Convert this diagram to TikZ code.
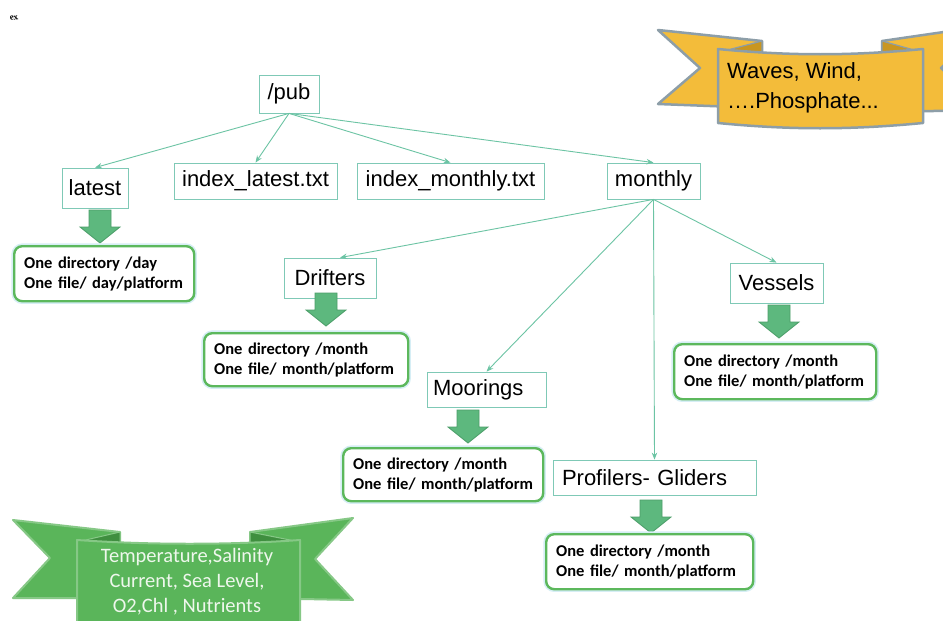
\documentclass[tikz,border=0pt]{standalone}
\usepackage{fontspec}
\setmainfont{Liberation Sans}
\newfontfamily\calibri{Carlito}
\newfontfamily\serifx{Liberation Serif}
\usetikzlibrary{arrows.meta}
\definecolor{linkc}{HTML}{6CC4A4}
\definecolor{boxc}{HTML}{7FC9B6}
\definecolor{arrowfill}{HTML}{5DB87E}
\definecolor{arrowdraw}{HTML}{4C9E69}
\definecolor{resc}{HTML}{5CB85C}
\definecolor{glowc}{HTML}{D6EEF5}
\definecolor{orfill}{HTML}{F3BC3A}
\definecolor{orborder}{HTML}{8D9EA8}
\definecolor{orfold}{HTML}{C99620}
\definecolor{grfill}{HTML}{5AB55A}
\definecolor{grborder}{HTML}{86C886}
\definecolor{grfold}{HTML}{3F8F3F}
\definecolor{grtext}{HTML}{EEF7EC}
\tikzset{
  lbl/.style={draw=boxc, line width=0.8pt, fill=white, inner sep=0pt,
    font=\fontsize{22}{26}\selectfont},
  link/.style={draw=linkc, line width=0.9pt, -{Stealth[length=7pt,width=5.5pt]}},
  res/.style={draw=resc, line width=2.4pt, rounded corners=8pt, fill=white,
    preaction={draw=glowc, line width=5.5pt},
    font=\calibri\bfseries\fontsize{16.5}{20}\selectfont, align=left,
    inner xsep=10pt, inner ysep=0pt, anchor=north west},
  blk/.style={fill=arrowfill, draw=arrowdraw, line width=0.8pt, line join=miter},
  blkarrow/.pic={\draw[blk] (-11,0) -- (11,0) -- (11,17) -- (20,17) -- (0,33) -- (-20,17) -- (-11,17) -- cycle;},
  orrib/.style={fill=orfill, draw=orborder, line width=2.5pt, line join=round},
  orfoldst/.style={fill=orfold, draw=orborder, line width=1.2pt, line join=round},
  grrib/.style={fill=grfill, draw=grborder, line width=2pt, line join=round},
  grfoldst/.style={fill=grfold, draw=grborder, line width=1pt, line join=round}
}
\begin{document}
\begin{tikzpicture}[x=1pt,y=-1pt]
\clip (0,0) rectangle (943,621);
\fill[white] (0,0) rectangle (943,621);

% stray mark
\node[font=\serifx\bfseries\fontsize{9}{9}\selectfont, rotate=12, inner sep=0pt] (ex) at (14,18) {ex};

% orange ribbon
\draw[orrib] (658,30) -- (762,41) -- (762,108) -- (658,104) -- (700,68) -- cycle;
\draw[orrib] (882,41) -- (985,26) -- (941,68) -- (985,110) -- (882,112) -- cycle;
\draw[orfoldst] (720,52) -- (762,41) -- (762,54) -- cycle;
\draw[orfoldst] (882,41) -- (882,54) -- (921,52) -- cycle;
\draw[orrib] (718,49) .. controls (790,56) and (850,56) .. (923,49) -- (923,123)
  .. controls (850,130) and (790,130) .. (718,123) -- cycle;
\node[anchor=west, align=left, inner sep=0pt, font=\fontsize{22}{30}\selectfont] (waves) at (727,88) {Waves, Wind,\\….Phosphate...};

% green ribbon
\draw[grrib] (13,520) -- (120,532) -- (120,598) -- (13,598) -- (50,558) -- cycle;
\draw[grrib] (353,518) -- (250,532) -- (250,598) -- (353,600) -- (315,559) -- cycle;
\draw[grfoldst] (77,542) -- (120,532) -- (120,544) -- cycle;
\draw[grfoldst] (250,532) -- (250,544) -- (300,542) -- cycle;
\draw[grrib] (77,540) .. controls (150,545) and (230,545) .. (300,540) -- (300,640) -- (77,640) -- cycle;
\node[align=center, text=grtext, inner sep=0pt, font=\calibri\fontsize{20.5}{25}\selectfont] (temps) at (187,582) {Temperature,Salinity\\Current, Sea Level,\\O2,Chl , Nutrients};

% label nodes
\node[lbl, minimum width=60pt, minimum height=38pt] (pub) at (289,94) {/pub};
\node[lbl, minimum width=66pt, minimum height=40pt] (latest) at (95,188) {latest};
\node[lbl, minimum width=163pt, minimum height=36pt] (idxl) at (255.5,181) {index\_latest.txt};
\node[lbl, minimum width=187pt, minimum height=36pt] (idxm) at (450.5,181) {index\_monthly.txt};
\node[lbl, minimum width=93pt, minimum height=36pt] (monthly) at (653.5,181) {monthly};
\node[lbl, minimum width=92pt, minimum height=40pt] (drifters) at (330,278) {Drifters};
\node[lbl, minimum width=93pt, minimum height=40pt] (vessels) at (776.5,283) {Vessels};
\node[lbl, minimum height=35pt, text width=107pt, inner xsep=6pt, align=left] (moorings) at (486.5,389.5) {Moorings};
\node[lbl, minimum height=35pt, text width=185pt, inner xsep=9pt, align=left] (profilers) at (654.5,477.5) {Profilers- Gliders};

% connectors
\draw[link] (pub.south) -- (latest.north);
\draw[link] (pub.south) -- (idxl.north);
\draw[link] (pub.south) -- (idxm.north);
\draw[link] (pub.south) -- (monthly.north);
\draw[link] (monthly.south) -- ([xshift=10pt]drifters.north);
\draw[link] (monthly.south) -- (vessels.north);
\draw[link] (monthly.south) -- (moorings.north);
\draw[link] (monthly.south) -- (profilers.north);

% block arrows
\pic at (100,210) {blkarrow};
\pic at (326,293) {blkarrow};
\pic at (779,305) {blkarrow};
\pic at (468,410) {blkarrow};
\pic at (651,500) {blkarrow};

% result boxes
\node[res, text width=160pt, minimum height=55pt] (rlatest) at (13,245) {One directory /day\\One file/ day/platform};
\node[res, text width=184pt, minimum height=53pt] (rdrifters) at (203,332) {One directory /month\\One file/ month/platform};
\node[res, text width=182pt, minimum height=55pt] (rvessels) at (673,343) {One directory /month\\One file/ month/platform};
\node[res, text width=180pt, minimum height=53pt] (rmoorings) at (342,447) {One directory /month\\One file/ month/platform};
\node[res, text width=187pt, minimum height=55pt] (rprofilers) at (545,533) {One directory /month\\One file/ month/platform};
\end{tikzpicture}
\end{document}
